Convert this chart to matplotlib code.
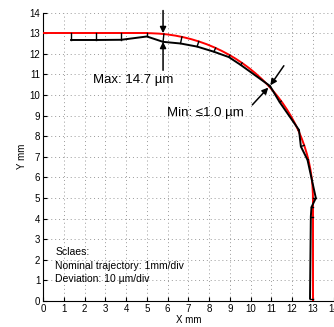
import numpy as np
import matplotlib
matplotlib.use('Agg')
import matplotlib.pyplot as plt
from matplotlib.patches import Arc

plt.rcParams['font.family'] = ['Liberation Sans', 'DejaVu Sans']

# nominal trajectory: straight line, quarter arc, straight line
nominal_top_x = [0, 5]
nominal_top_y = [13, 13]
arc_center = (5, 5)
arc_radius = 8
nominal_right_x = [13, 13]
nominal_right_y = [5, 0]

# measured trajectory (deviation magnified)
actual_x = [1.35, 2.55, 3.77, 5.0, 5.78, 6.62, 7.42, 8.23, 8.95, 9.52,
            10.93, 11.4, 12.33, 12.42, 12.74, 13.14, 12.93, 12.9, 12.86]
actual_y = [12.67, 12.67, 12.68, 12.84, 12.58, 12.5, 12.35, 12.1, 11.84, 11.46,
            10.44, 9.65, 8.3, 7.5, 6.85, 5.0, 4.55, 4.1, 0.12]

# annotation arrows (tail, tip)
max_arrows = [((5.78, 14.1), (5.78, 13.0)), ((5.78, 11.2), (5.78, 12.58))]
min_arrows = [((11.6, 11.42), (10.95, 10.47)), ((10.08, 9.52), (10.85, 10.36))]


def project(x, y):
    # foot point of a measured point on the nominal path
    if x <= arc_center[0]:
        return x, nominal_top_y[0]
    if y <= arc_center[1]:
        return nominal_right_x[0], y
    dx, dy = x - arc_center[0], y - arc_center[1]
    d = np.hypot(dx, dy)
    return arc_center[0] + arc_radius * dx / d, arc_center[1] + arc_radius * dy / d


fig = plt.figure(figsize=(3.34, 3.27), dpi=100)
ax = fig.add_axes([0.129, 0.0795, 0.87, 0.882])

ax.plot(nominal_top_x, nominal_top_y, color='red', lw=1.4, zorder=3)
ax.add_patch(Arc(arc_center, 2 * arc_radius, 2 * arc_radius, theta1=0, theta2=90,
                 color='red', lw=1.4, zorder=3))
ax.plot(nominal_right_x, nominal_right_y, color='red', lw=1.4, zorder=3)

ax.plot(actual_x, actual_y, color='black', lw=1.4, zorder=4)
for x, y in zip(actual_x, actual_y):
    px, py = project(x, y)
    ax.plot([x, px], [y, py], color='black', lw=1.0, zorder=4)

for tail, tip in max_arrows + min_arrows:
    ax.annotate('', xy=tip, xytext=tail, annotation_clip=False,
                arrowprops=dict(arrowstyle='-|>', color='black', lw=1.1,
                                mutation_scale=9, shrinkA=0, shrinkB=0))

ax.text(2.42, 10.73, 'Max: 14.7 \u00b5m', fontsize=9.5, va='center')
ax.text(5.97, 9.15, 'Min: \u22641.0 \u00b5m', fontsize=9.5, va='center')
ax.text(0.58, 2.4, 'Sclaes:', fontsize=7.5, va='center')
ax.text(0.58, 1.7, 'Nominal trajectory: 1mm/div', fontsize=7.5, va='center')
ax.text(0.58, 1.06, 'Deviation: 10 \u00b5m/div', fontsize=7.5, va='center')

ax.set_xlim(0, 14)
ax.set_ylim(0, 14)
ax.set_xticks(range(15))
ax.set_yticks(range(15))
ax.tick_params(direction='in', length=3, labelsize=7, pad=2)
ax.grid(True, linestyle=(0, (1, 3)), color='0.6', lw=0.7)
ax.spines['top'].set_visible(False)
ax.spines['right'].set_visible(False)
ax.set_xlabel('X mm', fontsize=7, labelpad=1)
ax.set_ylabel('Y mm', fontsize=7, labelpad=2)

fig.savefig('out.png', dpi=100)
